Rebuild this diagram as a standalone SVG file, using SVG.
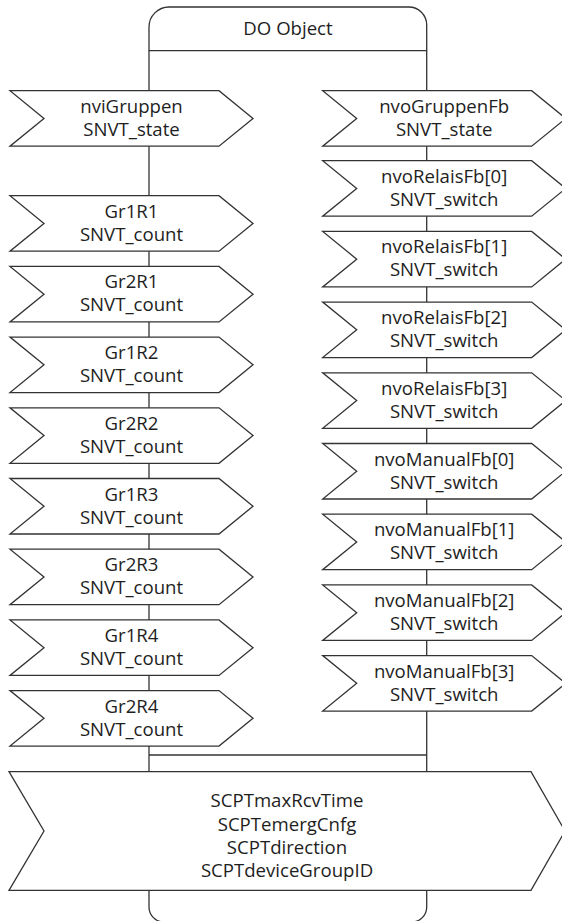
<svg xmlns="http://www.w3.org/2000/svg" xmlns:xlink="http://www.w3.org/1999/xlink" width="562" height="921" viewBox="0 0 562 921">
  <style>
    .ln { fill: none; stroke: #333; stroke-width: 1.3; }
    .chev { fill: #fff; stroke: #333; stroke-width: 1.3; stroke-linejoin: miter; }
    .lbl { font-family: "Open Sans", "Noto Sans", "Liberation Sans", sans-serif; font-size: 18.6px; fill: #1e1e1e; text-anchor: middle; }
  </style>
  <defs>
    <!-- flag-shaped datapoint outline, 55.5 high -->
    <path id="chev" d="M0,0 H209 L243,27.75 L209,55.5 H0 L34,27.75 Z"/>
  </defs>
  <rect width="562" height="921" fill="#fff"/>

  <!-- connectors -->
  <g id="connectors" class="ln">
    <line x1="149" y1="50.7" x2="149" y2="772"/>
    <line x1="426.7" y1="50.7" x2="426.7" y2="772"/>
    <line x1="149" y1="755" x2="426.7" y2="755"/>
  </g>

  <!-- object header -->
  <g id="do-object">
    <path class="ln" d="M149,50.7 V27 A20,20 0 0 1 169,7 H408.7 A18,18 0 0 1 426.7,25 V50.7 Z"/>
    <text class="lbl" x="288" y="34.5">DO Object</text>
  </g>

  <!-- inputs -->
  <g id="nviGruppen" transform="translate(10,90.7)">
    <use xlink:href="#chev" class="chev"/>
    <text class="lbl" x="121.5" y="22">nviGruppen</text>
    <text class="lbl" x="121.5" y="45">SNVT_state</text>
  </g>
  <g id="Gr1R1" transform="translate(10,195.7)">
    <use xlink:href="#chev" class="chev"/>
    <text class="lbl" x="121.5" y="22">Gr1R1</text>
    <text class="lbl" x="121.5" y="45">SNVT_count</text>
  </g>
  <g id="Gr2R1" transform="translate(10,266.4)">
    <use xlink:href="#chev" class="chev"/>
    <text class="lbl" x="121.5" y="22">Gr2R1</text>
    <text class="lbl" x="121.5" y="45">SNVT_count</text>
  </g>
  <g id="Gr1R2" transform="translate(10,337.1)">
    <use xlink:href="#chev" class="chev"/>
    <text class="lbl" x="121.5" y="22">Gr1R2</text>
    <text class="lbl" x="121.5" y="45">SNVT_count</text>
  </g>
  <g id="Gr2R2" transform="translate(10,407.8)">
    <use xlink:href="#chev" class="chev"/>
    <text class="lbl" x="121.5" y="22">Gr2R2</text>
    <text class="lbl" x="121.5" y="45">SNVT_count</text>
  </g>
  <g id="Gr1R3" transform="translate(10,478.5)">
    <use xlink:href="#chev" class="chev"/>
    <text class="lbl" x="121.5" y="22">Gr1R3</text>
    <text class="lbl" x="121.5" y="45">SNVT_count</text>
  </g>
  <g id="Gr2R3" transform="translate(10,549.2)">
    <use xlink:href="#chev" class="chev"/>
    <text class="lbl" x="121.5" y="22">Gr2R3</text>
    <text class="lbl" x="121.5" y="45">SNVT_count</text>
  </g>
  <g id="Gr1R4" transform="translate(10,619.9)">
    <use xlink:href="#chev" class="chev"/>
    <text class="lbl" x="121.5" y="22">Gr1R4</text>
    <text class="lbl" x="121.5" y="45">SNVT_count</text>
  </g>
  <g id="Gr2R4" transform="translate(10,690.6)">
    <use xlink:href="#chev" class="chev"/>
    <text class="lbl" x="121.5" y="22">Gr2R4</text>
    <text class="lbl" x="121.5" y="45">SNVT_count</text>
  </g>

  <!-- outputs -->
  <g id="nvoGruppenFb" transform="translate(322.7,90.7)">
    <use xlink:href="#chev" class="chev"/>
    <text class="lbl" x="121.5" y="22">nvoGruppenFb</text>
    <text class="lbl" x="121.5" y="45">SNVT_state</text>
  </g>
  <g id="nvoRelaisFb0" transform="translate(322.7,160.7)">
    <use xlink:href="#chev" class="chev"/>
    <text class="lbl" x="121.5" y="22">nvoRelaisFb[0]</text>
    <text class="lbl" x="121.5" y="45">SNVT_switch</text>
  </g>
  <g id="nvoRelaisFb1" transform="translate(322.7,231.4)">
    <use xlink:href="#chev" class="chev"/>
    <text class="lbl" x="121.5" y="22">nvoRelaisFb[1]</text>
    <text class="lbl" x="121.5" y="45">SNVT_switch</text>
  </g>
  <g id="nvoRelaisFb2" transform="translate(322.7,302.1)">
    <use xlink:href="#chev" class="chev"/>
    <text class="lbl" x="121.5" y="22">nvoRelaisFb[2]</text>
    <text class="lbl" x="121.5" y="45">SNVT_switch</text>
  </g>
  <g id="nvoRelaisFb3" transform="translate(322.7,372.8)">
    <use xlink:href="#chev" class="chev"/>
    <text class="lbl" x="121.5" y="22">nvoRelaisFb[3]</text>
    <text class="lbl" x="121.5" y="45">SNVT_switch</text>
  </g>
  <g id="nvoManualFb0" transform="translate(322.7,443.5)">
    <use xlink:href="#chev" class="chev"/>
    <text class="lbl" x="121.5" y="22">nvoManualFb[0]</text>
    <text class="lbl" x="121.5" y="45">SNVT_switch</text>
  </g>
  <g id="nvoManualFb1" transform="translate(322.7,514.2)">
    <use xlink:href="#chev" class="chev"/>
    <text class="lbl" x="121.5" y="22">nvoManualFb[1]</text>
    <text class="lbl" x="121.5" y="45">SNVT_switch</text>
  </g>
  <g id="nvoManualFb2" transform="translate(322.7,584.9)">
    <use xlink:href="#chev" class="chev"/>
    <text class="lbl" x="121.5" y="22">nvoManualFb[2]</text>
    <text class="lbl" x="121.5" y="45">SNVT_switch</text>
  </g>
  <g id="nvoManualFb3" transform="translate(322.7,655.6)">
    <use xlink:href="#chev" class="chev"/>
    <text class="lbl" x="121.5" y="22">nvoManualFb[3]</text>
    <text class="lbl" x="121.5" y="45">SNVT_switch</text>
  </g>

  <!-- configuration properties -->
  <g id="config">
    <path class="chev" d="M9,771.7 H531 L565,831 L531,890.3 H9 L44,831 Z"/>
    <text class="lbl" x="287" y="807.3">SCPTmaxRcvTime</text>
    <text class="lbl" x="287" y="830.6">SCPTemergCnfg</text>
    <text class="lbl" x="287" y="854">SCPTdirection</text>
    <text class="lbl" x="287" y="877.3">SCPTdeviceGroupID</text>
  </g>

  <!-- object footer -->
  <g id="do-object-footer">
    <path class="ln" d="M149,890.3 V907 A15,15 0 0 0 164,922 H411.7 A15,15 0 0 0 426.7,907 V890.3"/>
  </g>
</svg>
